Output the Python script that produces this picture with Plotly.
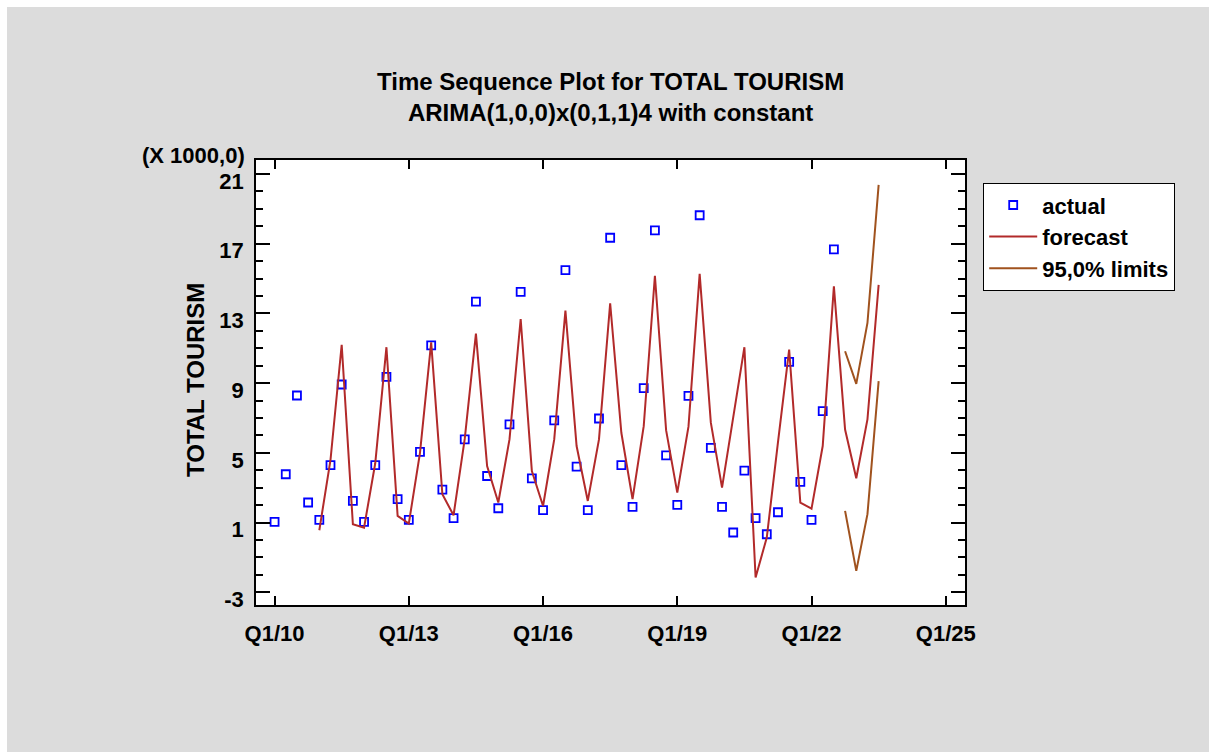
import plotly.graph_objects as go

# Quarterly series: index 0 = Q1/2010
actual = [1.04, 3.77, 8.29, 2.15, 1.15, 4.30, 8.92, 2.24, 1.04, 4.30, 9.36, 2.34,
          1.15, 5.06, 11.17, 2.89, 1.25, 5.77, 13.67, 3.67, 1.82, 6.63, 14.23, 3.54,
          1.71, 6.86, 15.48, 4.21, 1.71, 6.97, 17.34, 4.30, 1.90, 8.71, 17.76, 4.85,
          2.01, 8.27, 18.63, 5.29, 1.90, 0.43, 3.98, 1.25, 0.33, 1.59, 10.22, 3.33,
          1.15, 7.39, 16.67]

forecast_start = 4
forecast = [0.56, 4.60, 11.20, 0.90, 0.71, 4.40, 11.06, 1.38, 0.94, 5.00, 11.34, 2.62,
            1.42, 5.80, 11.84, 4.24, 2.15, 5.77, 12.68, 3.96, 1.95, 5.77, 13.16, 5.39,
            2.24, 5.77, 13.58, 6.15, 2.34, 6.53, 15.16, 6.30, 2.72, 6.50, 15.27, 6.73,
            3.00, 7.00, 11.06, -2.15, 0.14, 5.60, 10.92, 2.15, 1.80, 5.39, 14.55, 6.34,
            3.54, 6.92, 14.64]

limits_start = 51
upper_limit = [10.83, 8.96, 12.45, 20.37]
lower_limit = [1.67, -1.77, 1.48, 9.11]

x_tick_labels = ["Q1/10", "Q1/13", "Q1/16", "Q1/19", "Q1/22", "Q1/25"]
x_tick_positions = [12 * k for k in range(len(x_tick_labels))]
y_tick_values = [-3, 1, 5, 9, 13, 17, 21]
y_tick_labels = ["-3", "1", "5", "9", "13", "17", "21"]

FONT = "Arial, 'Liberation Sans', sans-serif"

x_actual = list(range(len(actual)))
x_fc = list(range(forecast_start, forecast_start + len(forecast)))
x_lim = list(range(limits_start, limits_start + len(upper_limit)))

fig = go.Figure()
fig.add_trace(go.Scatter(
    x=x_actual, y=actual, mode="markers", name="actual",
    marker=dict(symbol="square-open", size=8, color="#0000FF", line=dict(width=1.8, color="#0000FF")),
))
fig.add_trace(go.Scatter(
    x=x_fc, y=forecast, mode="lines", name="forecast",
    line=dict(color="#B22A2A", width=2),
))
fig.add_trace(go.Scatter(
    x=x_lim + [None] + x_lim, y=upper_limit + [None] + lower_limit,
    mode="lines", name="95,0% limits", connectgaps=False,
    line=dict(color="#A0521E", width=2),
))

L, R, T, B = 256, 244, 160, 147
W, H = 1209, 752
pw, ph = W - L - R, H - T - B

def px_x(px):
    return (px - L) / pw

def px_y(py):
    return (H - B - py) / ph

axis_common = dict(
    showline=True, linecolor="black", linewidth=1.5, mirror="ticks",
    ticks="inside", tickcolor="black", tickwidth=1.5,
    showgrid=False, zeroline=False,
    tickfont=dict(family=FONT, size=22, color="black", weight="bold"),
)

fig.update_xaxes(
    range=[-1.66, 61.72], tickmode="array", tickvals=x_tick_positions, ticktext=x_tick_labels,
    ticklen=9, ticklabelstandoff=8, **axis_common,
)
fig.update_yaxes(
    range=[-3.73, 21.8], tickmode="array", tickvals=y_tick_values, ticktext=y_tick_labels,
    ticklen=14, ticklabelstandoff=6, ticklabelshift=7,
    minor=dict(dtick=1, tick0=-3, ticklen=7, ticks="inside", tickcolor="black", tickwidth=1.5),
    **axis_common,
)

fig.update_layout(
    width=W, height=H, autosize=False,
    margin=dict(l=L, r=R, t=T, b=B, pad=0),
    paper_bgcolor="#DCDCDC", plot_bgcolor="white",
    font=dict(family=FONT, size=22, color="black", weight="bold"),
    showlegend=True,
    legend=dict(
        x=px_x(983), y=px_y(183), xanchor="left", yanchor="top",
        bgcolor="white", bordercolor="black", borderwidth=1.2,
        font=dict(family=FONT, size=22, color="black", weight="bold"),
        itemwidth=48, tracegroupgap=0,
    ),
    annotations=[
        dict(text="Time Sequence Plot for TOTAL TOURISM<br>ARIMA(1,0,0)x(0,1,1)4 with constant",
             xref="paper", yref="paper", x=px_x(610), y=px_y(97),
             xanchor="center", yanchor="middle", showarrow=False,
             font=dict(family=FONT, size=24, color="black", weight="bold")),
        dict(text="TOTAL TOURISM", textangle=-90,
             xref="paper", yref="paper", x=px_x(195), y=px_y(380),
             xanchor="center", yanchor="middle", showarrow=False,
             font=dict(family=FONT, size=24, color="black", weight="bold")),
        dict(text="(X 1000,0)",
             xref="paper", yref="paper", x=px_x(247), y=px_y(155),
             xanchor="right", yanchor="middle", showarrow=False,
             font=dict(family=FONT, size=22, color="black", weight="bold")),
    ],
    shapes=[
        dict(type="rect", xref="paper", yref="paper", line=dict(width=0), fillcolor="white",
             x0=px_x(0), x1=px_x(7), y0=px_y(H), y1=px_y(0), layer="below"),
        dict(type="rect", xref="paper", yref="paper", line=dict(width=0), fillcolor="white",
             x0=px_x(0), x1=px_x(W), y0=px_y(7), y1=px_y(0), layer="below"),
    ],
)

fig.write_html("out.html")
